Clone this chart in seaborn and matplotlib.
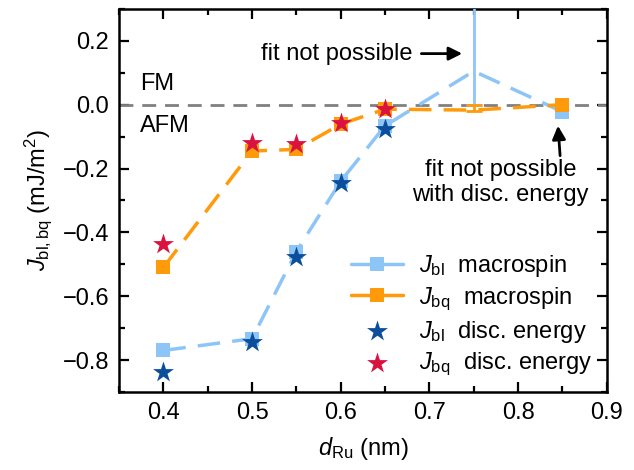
import matplotlib
matplotlib.use("Agg")
import matplotlib.pyplot as plt
import seaborn as sns
import numpy as np
from matplotlib.ticker import MultipleLocator

# ---- data ----
d_ru = [0.40, 0.50, 0.55, 0.60, 0.65, 0.75, 0.85]
jbl_macro = [-0.77, -0.733, -0.46, -0.24, -0.066, 0.105, -0.022]
jbq_macro = [-0.51, -0.145, -0.14, -0.061, -0.014, -0.017, 0.0]
d_disc = [0.40, 0.50, 0.55, 0.60, 0.65]
jbl_disc = [-0.836, -0.743, -0.478, -0.245, -0.077]
jbq_disc = [-0.436, -0.12, -0.122, -0.056, -0.012]
err_x = [0.75]
jbl_err_val = [0.105]
jbl_err_low = [0.105]
jbl_err_up = [0.6]
jbq_err_val = [-0.017]
jbq_err_low = [0.004]
jbq_err_up = [0.017]

c_bl = "#8ec5f7"
c_bq = "#ff9a0a"
c_star_bl = "#0b4f9c"
c_star_bq = "#d9123f"

sns.set_style("ticks", {"axes.edgecolor": "black", "text.color": "black",
                        "xtick.color": "black", "ytick.color": "black",
                        "axes.labelcolor": "black"})
plt.rcParams['font.family'] = ['Liberation Sans', 'DejaVu Sans']
plt.rcParams['mathtext.fontset'] = 'custom'
plt.rcParams['mathtext.rm'] = 'Liberation Sans'
plt.rcParams['mathtext.it'] = 'Liberation Sans:italic'
plt.rcParams['mathtext.bf'] = 'Liberation Sans:bold'
plt.rcParams['font.size'] = 17

fig = plt.figure(figsize=(6.34, 4.70), dpi=100)
ax = fig.add_axes([0.1877, 0.166, 0.957 - 0.1877, 0.981 - 0.166])

ax.axhline(0, color="#808080", lw=2, ls=(0, (5, 3.2)), zorder=1)

dash = (0, (6.5, 3.5))
sns.lineplot(x=d_ru, y=jbl_macro, ax=ax, color=c_bl, lw=2.5, linestyle=dash,
             marker='s', markersize=10, markeredgewidth=0, markevery=[0, 1, 2, 3, 4, 6],
             sort=False, label=r"$J_{\mathrm{bl}}$  macrospin", zorder=3)
sns.lineplot(x=d_ru, y=jbq_macro, ax=ax, color=c_bq, lw=2.5, linestyle=dash,
             marker='s', markersize=10, markeredgewidth=0, markevery=[0, 1, 2, 3, 4, 6],
             sort=False, label=r"$J_{\mathrm{bq}}$  macrospin", zorder=4)
ax.errorbar(err_x, jbl_err_val, yerr=[jbl_err_low, jbl_err_up], fmt='none',
            ecolor=c_bl, elinewidth=2, capsize=6, capthick=2, zorder=3)
ax.errorbar(err_x, jbq_err_val, yerr=[jbq_err_low, jbq_err_up], fmt='none',
            ecolor=c_bq, elinewidth=2, capsize=6, capthick=2, zorder=4)
sns.scatterplot(x=d_disc, y=jbl_disc, ax=ax, color=c_star_bl, marker='*', s=250,
                linewidth=0, label=r"$J_{\mathrm{bl}}$  disc. energy", zorder=5)
sns.scatterplot(x=d_disc, y=jbq_disc, ax=ax, color=c_star_bq, marker='*', s=250,
                linewidth=0, label=r"$J_{\mathrm{bq}}$  disc. energy", zorder=6)

ax.set_xlim(0.35, 0.9)
ax.set_ylim(-0.9, 0.3)
ax.xaxis.set_major_locator(MultipleLocator(0.1))
ax.xaxis.set_minor_locator(MultipleLocator(0.05))
ax.yaxis.set_minor_locator(MultipleLocator(0.1))
ax.set_yticks([-0.8, -0.6, -0.4, -0.2, 0.0, 0.2])
ax.set_yticklabels(["\u22120.8", "\u22120.6", "\u22120.4", "\u22120.2", "0.0", "0.2"])
ax.tick_params(which='both', direction='in', top=True, right=True, labelsize=17, pad=7,
               colors='black')
ax.tick_params(which='major', length=7, width=1.6)
ax.tick_params(which='minor', length=4, width=1.6)
for s in ax.spines.values():
    s.set_linewidth(1.8)
    s.set_color('black')
    s.set_visible(True)

ax.set_xlabel(r"$d_{\mathrm{Ru}}$ (nm)", fontsize=17, labelpad=8, color='black')
ax.set_ylabel(r"$J_{\mathrm{bl,bq}}$ (mJ/m$^2$)", fontsize=17, labelpad=6, color='black')

ax.text(0.374, 0.066, "FM", fontsize=17, ha='left', va='center', color='black')
ax.text(0.374, -0.066, "AFM", fontsize=17, ha='left', va='center', color='black')

ax.annotate("fit not possible", xy=(0.737, 0.16), xytext=(0.681, 0.16),
            fontsize=17, ha='right', va='center', color='black',
            arrowprops=dict(arrowstyle='-|>', color='black', lw=2, mutation_scale=20,
                            shrinkA=4, shrinkB=0))
ax.annotate("fit not possible\nwith disc. energy", xy=(0.845, -0.066), xytext=(0.780, -0.243),
            fontsize=17, ha='center', va='center', linespacing=1.15, color='black',
            arrowprops=dict(arrowstyle='-|>', color='black', lw=2, mutation_scale=20,
                            shrinkA=0, shrinkB=0, relpos=(0.84, 1.0)))

leg = ax.legend(loc='lower right', frameon=False, fontsize=17, handlelength=2.2,
                handletextpad=0.7, labelspacing=0.25, borderaxespad=0.2,
                bbox_to_anchor=(1.0, 0.0))
for t in leg.get_texts():
    t.set_color('black')
for ln in leg.get_lines():
    ln.set_linestyle('-')

fig.savefig("out.png", dpi=100)
